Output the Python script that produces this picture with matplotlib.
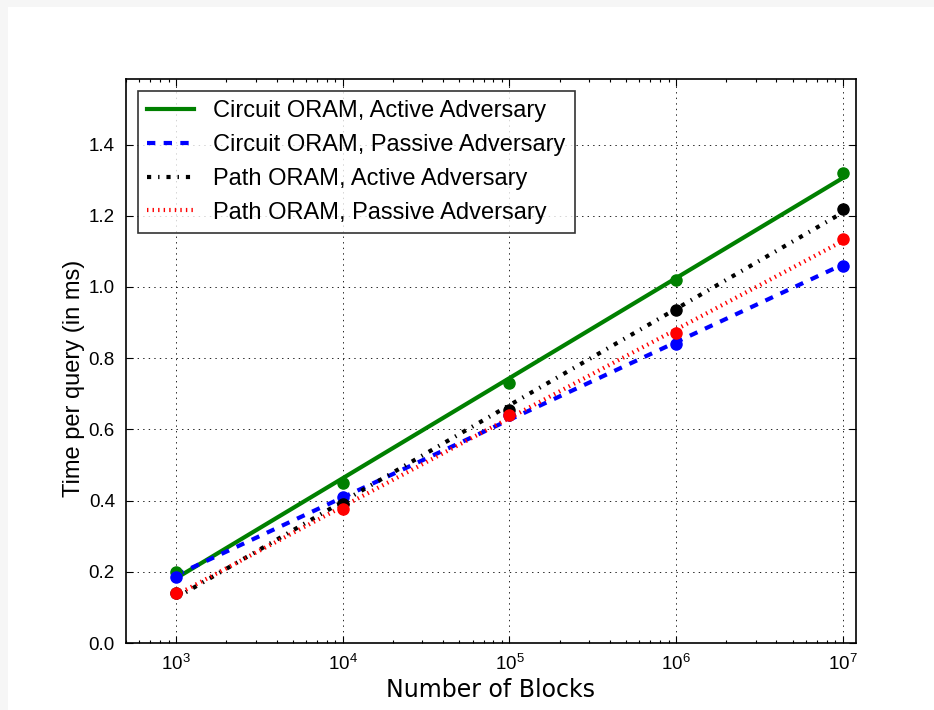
import numpy as np
import matplotlib
matplotlib.use("Agg")
import matplotlib.pyplot as plt
from matplotlib.patches import Rectangle

# Query latency measurements (ms) for each ORAM construction / adversary model
num_blocks = [1e3, 1e4, 1e5, 1e6, 1e7]
circuit_active = [0.20, 0.45, 0.73, 1.02, 1.32]
circuit_passive = [0.185, 0.41, 0.64, 0.84, 1.06]
path_active = [0.14, 0.39, 0.655, 0.935, 1.22]
path_passive = [0.14, 0.375, 0.64, 0.87, 1.135]

labels = [
    "Circuit ORAM, Active Adversary",
    "Circuit ORAM, Passive Adversary",
    "Path ORAM, Active Adversary",
    "Path ORAM, Passive Adversary",
]

plt.rcParams["lines.scale_dashes"] = False
plt.rcParams["font.family"] = ["Liberation Sans", "DejaVu Sans"]
plt.rcParams["mathtext.fontset"] = "custom"
plt.rcParams["mathtext.rm"] = "Liberation Sans"
plt.rcParams["mathtext.it"] = "Liberation Sans:italic"
plt.rcParams["mathtext.bf"] = "Liberation Sans:bold"

fig = plt.figure(figsize=(9.34, 7.10), dpi=100, facecolor="#f6f6f6")
fig.patches.append(Rectangle((8 / 934, 0), 1, 1 - 7 / 710, transform=fig.transFigure,
                             facecolor="white", edgecolor="none", zorder=-10))
ax = fig.add_axes([126 / 934, 1 - 643 / 710, (856 - 126) / 934, (643 - 79) / 710])

series = [
    (circuit_active, (0.0, 0.5, 0.0), "-"),
    (circuit_passive, (0.0, 0.0, 1.0), (0, (6, 6))),
    (path_active, "black", (0, (3, 5, 1, 5))),
    (path_passive, (1.0, 0.0, 0.0), (0, (1, 3))),
]

x = np.array(num_blocks)
lx = np.log10(x)
for (vals, color, ls), lab in zip(series, labels):
    slope, icpt = np.polyfit(lx, vals, 1)
    ax.plot(x, slope * lx + icpt, color=color, linestyle=ls, linewidth=3, label=lab)

for vals, color, _ in series:
    ax.plot(x, vals, "o", color=color, markeredgecolor=color, markersize=8, linestyle="none")

ax.set_xscale("log")
ax.set_xlim(500, 1.2e7)
ymax = 1.2 * max(max(s[0]) for s in series)
ax.set_ylim(0, ymax)
ax.set_yticks(np.arange(0, 1.41, 0.2))
ax.set_yticklabels([f"{v:.1f}" for v in np.arange(0, 1.41, 0.2)])

ax.grid(True, which="major", color="black", linestyle=(0, (1, 3)), linewidth=0.6)
ax.tick_params(which="both", direction="in", top=True, right=True, labelsize=13.5, pad=8)
ax.tick_params(which="major", length=5, width=0.8)
ax.tick_params(which="minor", length=2.5, width=0.8)
for sp in ax.spines.values():
    sp.set_linewidth(1.2)

ax.set_xlabel("Number of Blocks", fontsize=17, family="DejaVu Sans", labelpad=3)
ax.set_ylabel("Time per query (in ms)", fontsize=17)
ax.yaxis.set_label_coords(-0.056, 0.47)

leg = ax.legend(loc="upper left", fontsize=17, frameon=True, fancybox=False,
                handlelength=2.0, handletextpad=0.8, labelspacing=0.5,
                borderaxespad=0.5)
leg.get_frame().set_edgecolor("black")
leg.get_frame().set_linewidth(1.2)

fig.savefig("out.png", dpi=100, facecolor=fig.get_facecolor())
